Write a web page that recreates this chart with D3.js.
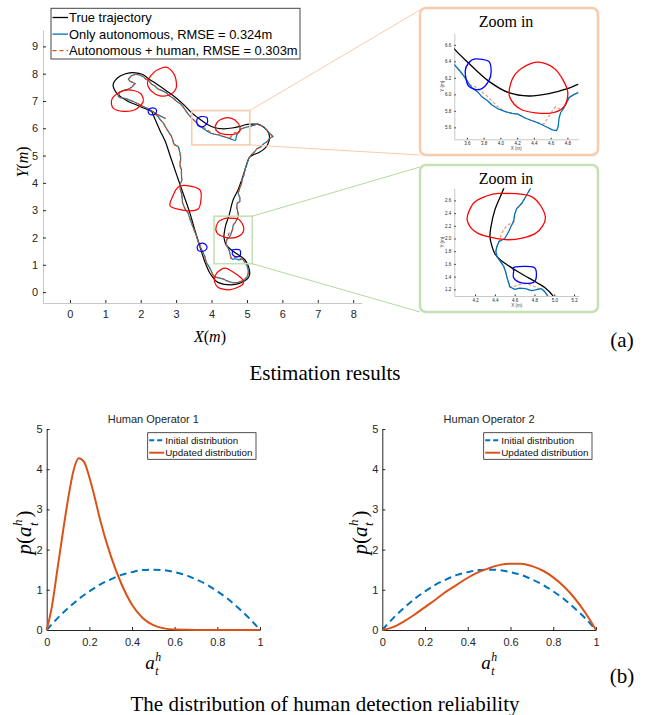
<!DOCTYPE html>
<html lang="en">
<head>
<meta charset="UTF-8">
<script src="https://cdnjs.cloudflare.com/ajax/libs/d3/7.8.5/d3.min.js"></script>
<style>
  body { margin: 0; background: #fff; }
  text { font-family: "Liberation Sans", Arial, sans-serif; }
  text.serif { font-family: "Liberation Serif", "Times New Roman", serif; }
</style>
</head>
<body>
<div id="content"></div>
<script>
// ---- data (metres) ----
const trueTrack = [[2.31,6.62],[1.98,6.80],[1.60,7.02],[1.32,7.29],[1.22,7.59],[1.35,7.85],[1.55,7.99],[1.75,8.04],[1.95,8.01],[2.07,7.96],[2.25,7.79],[2.45,7.62],[2.75,7.35],[3.01,7.10],[3.25,6.82],[3.45,6.55],[3.62,6.38],[3.86,6.16],[4.10,6.02],[4.34,5.98],[4.58,6.01],[4.80,6.07],[4.93,6.12],[5.08,6.15],[5.25,6.15],[5.40,6.10],[5.55,5.95],[5.63,5.75],[5.62,5.52],[5.52,5.28],[5.35,5.12],[5.18,5.03],[5.08,4.95],[5.02,4.80],[4.95,4.50],[4.85,4.10],[4.75,3.75],[4.61,3.38],[4.49,2.79],[4.40,2.45],[4.36,2.18],[4.35,2.03],[4.37,1.88],[4.40,1.76],[4.45,1.67],[4.52,1.59],[4.63,1.48],[4.74,1.38],[4.83,1.30],[4.91,1.22],[4.99,1.09],[5.05,0.90],[5.08,0.70],[5.05,0.55],[4.95,0.42],[4.80,0.33],[4.62,0.27],[4.45,0.27],[4.28,0.31],[4.14,0.39],[4.05,0.52],[3.95,0.70],[3.80,1.15],[3.67,1.67],[3.52,2.30],[3.39,2.89],[3.20,3.60],[3.00,4.35],[2.82,5.03],[2.70,5.50],[2.55,5.90],[2.45,6.19],[2.31,6.62]];

const autoTrack = [[2.70,6.36],[2.49,6.49],[2.33,6.62],[2.20,6.72],[2.07,6.80],[1.92,6.90],[1.79,6.98],[1.65,7.05],[1.55,7.10],[1.42,7.12],[1.36,7.18],[1.41,7.33],[1.55,7.40],[1.66,7.44],[1.74,7.50],[1.84,7.64],[1.70,7.72],[1.65,7.80],[1.74,7.93],[1.86,7.98],[1.98,7.95],[2.08,7.88],[2.14,7.80],[2.22,7.76],[2.30,7.62],[2.40,7.55],[2.47,7.45],[2.60,7.38],[2.72,7.30],[2.82,7.18],[2.92,7.10],[3.01,6.99],[3.12,6.90],[3.20,6.78],[3.27,6.65],[3.35,6.50],[3.45,6.36],
  [3.52,6.28],[3.58,6.20],[3.63,6.12],[3.67,6.07],[3.73,6.03],[3.78,5.97],[3.85,5.92],[3.90,5.87],[3.98,5.82],[4.06,5.79],[4.14,5.77],[4.21,5.76],[4.30,5.71],[4.38,5.68],[4.46,5.65],[4.54,5.61],[4.62,5.57],[4.67,5.56],[4.69,5.61],[4.70,5.71],[4.72,5.78],[4.76,5.84],[4.82,5.96],[4.88,6.00],[4.93,6.02],
  [5.02,6.05],[5.10,6.08],[5.22,6.12],[5.30,6.16],[5.38,6.12],[5.46,6.05],[5.55,5.95],[5.63,5.82],[5.74,5.70],[5.64,5.64],[5.58,5.52],[5.47,5.43],[5.39,5.32],[5.28,5.25],[5.20,5.12],[5.12,5.02],[5.05,4.90],[5.02,4.78],
  [4.98,4.62],[4.94,4.48],[4.91,4.28],[4.86,4.12],[4.85,3.99],[4.80,3.82],[4.75,3.63],[4.80,3.45],[4.80,3.32],[4.72,3.25],[4.71,3.10],[4.74,2.95],[4.76,2.79],
  [4.72,2.68],[4.67,2.55],[4.62,2.47],[4.60,2.38],[4.59,2.27],[4.56,2.18],[4.54,2.11],[4.50,2.00],[4.44,1.95],[4.42,1.87],[4.41,1.80],[4.42,1.72],[4.46,1.63],[4.49,1.56],[4.51,1.47],[4.52,1.40],[4.54,1.30],[4.55,1.24],[4.60,1.20],[4.65,1.22],[4.71,1.21],[4.77,1.18],[4.81,1.19],[4.87,1.21],[4.90,1.17],[4.92,1.13],[4.94,1.08],
  [4.99,1.00],[5.03,0.85],[5.04,0.70],[5.00,0.55],[4.90,0.42],[4.75,0.36],[4.61,0.34],[4.45,0.40],[4.35,0.47],[4.24,0.51],[4.12,0.55],[4.05,0.60],[3.98,0.80],[3.92,0.95],[3.86,1.06],[3.81,1.30],
  [3.75,1.48],[3.70,1.60],[3.67,1.72],[3.62,1.85],[3.58,2.04],[3.53,2.20],[3.47,2.40],[3.43,2.55],[3.38,2.72],[3.34,2.89],[3.25,3.05],[3.18,3.26],[3.17,3.45],[3.15,3.63],[3.11,3.80],[3.11,3.93],[3.16,4.10],[3.15,4.30],[3.15,4.48],[3.11,4.62],[3.11,4.72],[3.13,4.90],[3.11,5.09],[3.08,5.25],[3.06,5.33],[2.95,5.40],[2.92,5.50],[2.87,5.70],[2.78,5.88],[2.72,6.00],[2.64,6.19],[2.55,6.32],[2.49,6.43],[2.38,6.55]];

const humanTrack = [[2.70,6.36],[2.49,6.49],[2.33,6.62],[2.20,6.72],[2.07,6.80],[1.92,6.90],[1.79,6.98],[1.65,7.05],[1.55,7.10],[1.42,7.12],[1.36,7.18],[1.41,7.33],[1.55,7.40],[1.66,7.44],[1.74,7.50],[1.84,7.64],[1.70,7.72],[1.65,7.80],[1.74,7.93],[1.86,7.98],[1.98,7.95],[2.08,7.88],[2.14,7.80],[2.22,7.76],[2.30,7.62],[2.40,7.55],[2.47,7.45],[2.60,7.38],[2.72,7.30],[2.82,7.18],[2.92,7.10],[3.01,6.99],[3.12,6.90],[3.20,6.78],[3.27,6.65],[3.35,6.50],[3.45,6.36],
  [3.52,6.28],[3.58,6.20],[3.63,6.12],[3.67,6.10],[3.73,6.08],[3.78,6.03],[3.85,5.97],[3.92,5.90],[3.98,5.84],[4.06,5.79],[4.14,5.77],[4.21,5.76],[4.30,5.71],[4.38,5.68],[4.46,5.65],[4.52,5.64],[4.57,5.72],[4.62,5.80],[4.66,5.85],[4.71,5.82],[4.76,5.84],[4.82,5.96],[4.88,6.00],[4.93,6.02],
  [5.02,6.05],[5.10,6.08],[5.22,6.12],[5.30,6.16],[5.38,6.12],[5.46,6.05],[5.55,5.95],[5.63,5.82],[5.74,5.70],[5.64,5.64],[5.58,5.52],[5.47,5.43],[5.39,5.32],[5.28,5.25],[5.20,5.12],[5.12,5.02],[5.05,4.90],[5.02,4.78],
  [4.98,4.62],[4.94,4.48],[4.91,4.28],[4.86,4.12],[4.85,3.99],[4.80,3.82],[4.75,3.63],[4.80,3.45],[4.80,3.32],[4.72,3.25],[4.71,3.10],[4.74,2.95],[4.76,2.79],
  [4.72,2.68],[4.67,2.55],[4.62,2.47],[4.60,2.38],[4.59,2.27],[4.55,2.23],[4.49,2.15],[4.46,2.04],[4.44,1.95],[4.42,1.87],[4.41,1.80],[4.42,1.72],[4.46,1.63],[4.49,1.56],[4.51,1.47],[4.52,1.40],[4.54,1.30],[4.55,1.24],[4.60,1.25],[4.66,1.28],[4.72,1.29],[4.78,1.26],[4.83,1.22],[4.87,1.21],[4.90,1.17],[4.92,1.13],[4.94,1.08],
  [4.99,1.00],[5.03,0.85],[5.04,0.70],[5.00,0.55],[4.90,0.42],[4.75,0.36],[4.61,0.34],[4.45,0.40],[4.35,0.47],[4.24,0.51],[4.12,0.55],[4.05,0.60],[3.98,0.80],[3.92,0.95],[3.86,1.06],[3.81,1.30],
  [3.75,1.48],[3.70,1.60],[3.67,1.72],[3.62,1.85],[3.58,2.04],[3.53,2.20],[3.47,2.40],[3.43,2.55],[3.38,2.72],[3.34,2.89],[3.25,3.05],[3.18,3.26],[3.17,3.45],[3.15,3.63],[3.11,3.80],[3.11,3.93],[3.16,4.10],[3.15,4.30],[3.15,4.48],[3.11,4.62],[3.11,4.72],[3.13,4.90],[3.11,5.09],[3.08,5.25],[3.06,5.33],[2.95,5.40],[2.92,5.50],[2.87,5.70],[2.78,5.88],[2.72,6.00],[2.64,6.19],[2.55,6.32],[2.49,6.43],[2.38,6.55]];

// human observation regions (red) and robot detections (blue)
const redRegions = [
  [[2.78,8.21],[2.97,7.90],[3.00,7.47],[2.82,7.23],[2.54,7.19],[2.31,7.35],[2.19,7.66],[2.35,8.02],[2.59,8.21]],
  [[1.65,7.41],[1.98,7.29],[2.07,6.98],[1.84,6.68],[1.51,6.62],[1.22,6.74],[1.18,7.04],[1.36,7.29]],
  [[4.46,6.39],[4.66,6.30],[4.80,6.05],[4.76,5.85],[4.58,5.77],[4.26,5.81],[4.11,5.97],[4.14,6.18],[4.26,6.32]],
  [[3.30,3.90],[3.67,3.75],[3.70,3.38],[3.62,3.04],[3.30,2.98],[2.84,3.14],[2.90,3.50],[3.06,3.85]],
  [[4.44,2.71],[4.77,2.66],[4.91,2.34],[4.81,2.08],[4.54,1.98],[4.23,2.08],[4.12,2.29],[4.18,2.55],[4.30,2.66]],
  [[4.38,0.88],[4.65,0.70],[4.88,0.45],[4.85,0.25],[4.50,0.08],[4.18,0.18],[4.08,0.45],[4.15,0.70]]
];
const blueRegions = [
  [[2.33,6.75],[2.43,6.70],[2.44,6.58],[2.35,6.49],[2.23,6.54],[2.22,6.68]],
  [[3.70,6.43],[3.86,6.40],[3.89,6.28],[3.86,6.16],[3.76,6.06],[3.62,6.10],[3.58,6.28],[3.62,6.38]],
  [[3.73,1.79],[3.85,1.72],[3.86,1.58],[3.75,1.49],[3.62,1.53],[3.60,1.69]],
  [[4.60,1.55],[4.79,1.55],[4.82,1.43],[4.79,1.31],[4.67,1.30],[4.59,1.38],[4.59,1.48]]
];

const xTicksMain = [0,1,2,3,4,5,6,7,8];
const yTicksMain = [0,1,2,3,4,5,6,7,8,9];
const legendMain = ['True trajectory', 'Only autonomous, RMSE = 0.324m', 'Autonomous + human, RMSE = 0.303m'];

// zoomed windows: area in the main plot and the panel axes
const zoomAreas = [{x0: 3.44, x1: 5.08, y0: 5.39, y1: 6.65}, {x0: 4.07, x1: 5.15, y0: 1.04, y1: 2.78}];
const zoomDomains = [{x: [3.45, 4.93], y: [5.455, 6.74]}, {x: [3.99, 5.25], y: [1.095, 2.79]}];
const zoomXTicks = [[3.6,3.8,4,4.2,4.4,4.6,4.8], [4.2,4.4,4.6,4.8,5,5.2]];
const zoomYTicks = [[5.6,5.8,6,6.2,6.4,6.6], [1.2,1.4,1.6,1.8,2,2.2,2.4,2.6]];

// reliability distributions
const aGrid = [0,0.05,0.1,0.15,0.2,0.25,0.3,0.35,0.4,0.45,0.5,0.55,0.6,0.65,0.7,0.75,0.8,0.85,0.9,0.95,1];
const initialPdf = [0,0.29,0.54,0.77,0.96,1.13,1.26,1.37,1.44,1.49,1.5,1.49,1.44,1.37,1.26,1.13,0.96,0.77,0.54,0.29,0];
const op1Grid = [0,0.025,0.05,0.075,0.1,0.125,0.15,0.175,0.2,0.225,0.25,0.3,0.35,0.4,0.45,0.5,0.55,0.6,0.7,0.8,0.9,1];
const op1Pdf = [0,0.6,1.5,2.4,3.25,3.95,4.27,4.18,3.8,3.3,2.75,1.85,1.15,0.63,0.3,0.12,0.04,0.01,0,0,0,0];
const op2Pdf = [0,0.07,0.21,0.38,0.57,0.76,0.96,1.13,1.30,1.44,1.54,1.62,1.65,1.65,1.59,1.48,1.31,1.08,0.79,0.43,0];
const pTicksX = [0,0.2,0.4,0.6,0.8,1];
const pTicksY = [0,1,2,3,4,5];

const cBlue = '#0072BD', cOrange = '#D95319';
const width = 651, height = 715;

const svg = d3.select('#content').append('svg')
  .attr('width', width).attr('height', height);

//-Scene: true track, estimates, regions
function drawScene(g, x, y, lw, humanOnTop) {
  const smooth = d3.line().x(d => x(d[0])).y(d => y(d[1])).curve(d3.curveCatmullRom);
  const rough = d3.line().x(d => x(d[0])).y(d => y(d[1]));
  const loop = d3.line().x(d => x(d[0])).y(d => y(d[1])).curve(d3.curveCardinalClosed.tension(0.1));

  g.append('path').datum(trueTrack).attr('d', smooth)
    .attr('fill', 'none').attr('stroke', '#000').attr('stroke-width', lw);
  const drawAuto = () => g.append('path').datum(autoTrack).attr('d', rough)
    .attr('fill', 'none').attr('stroke', cBlue).attr('stroke-width', lw).attr('stroke-linejoin', 'round');
  const drawHuman = () => g.append('path').datum(humanTrack).attr('d', rough)
    .attr('fill', 'none').attr('stroke', cOrange).attr('stroke-width', lw)
    .attr('stroke-dasharray', humanOnTop ? '3.5,2.5' : '3,2').attr('opacity', humanOnTop ? 1 : 0.55);
  if (humanOnTop) { drawAuto(); drawHuman(); } else { drawHuman(); drawAuto(); }

  g.selectAll(null).data(redRegions).enter().append('path').attr('d', loop)
    .attr('fill', 'none').attr('stroke', '#ff0000').attr('stroke-width', lw);
  g.selectAll(null).data(blueRegions).enter().append('path').attr('d', loop)
    .attr('fill', 'none').attr('stroke', '#0000ff').attr('stroke-width', lw);
}

//-Main trajectory plot
const xMain = d3.scaleLinear().domain([-0.76, 8.24]).range([43, 361.7]);
const yMain = d3.scaleLinear().domain([-0.4, 9.6]).range([303, 30]);

function styleAxis(g, lineColor, fs) {
  g.select('.domain').attr('stroke', lineColor);
  g.selectAll('.tick line').attr('stroke', '#262626');
  g.selectAll('.tick text').attr('fill', '#262626').style('font-size', fs + 'px')
    .style('font-family', '"Liberation Sans", Arial, sans-serif');
}

svg.append('g').attr('transform', 'translate(0,303)')
  .call(d3.axisBottom(xMain).tickValues(xTicksMain).tickSize(-3).tickSizeOuter(0).tickPadding(7))
  .call(g => styleAxis(g, '#c8c8c8', 11));
svg.append('g').attr('transform', 'translate(43,0)')
  .call(d3.axisLeft(yMain).tickValues(yTicksMain).tickSize(-3).tickSizeOuter(0).tickPadding(5))
  .call(g => styleAxis(g, '#c8c8c8', 11));

drawScene(svg.append('g'), xMain, yMain, 1.2, true);

//--zoom rectangles, connectors and panels
const panelBoxes = [{x: 420, y: 8, w: 178, h: 147, color: '#f8cbad', link: '#f8cbad'},
                    {x: 420, y: 165, w: 178, h: 147, color: '#c5e0b4', link: '#b4d89c'}];
const panelAxes = [{l: 454.3, r: 578.3, t: 33.3, b: 139.3}, {l: 454.3, r: 579, t: 188.3, b: 296}];
const defs = svg.append('defs');

zoomAreas.forEach((a, i) => {
  const box = panelBoxes[i];
  const rx0 = xMain(a.x0), rx1 = xMain(a.x1), ry0 = yMain(a.y1), ry1 = yMain(a.y0);
  svg.append('rect').attr('x', rx0).attr('y', ry0).attr('width', rx1 - rx0).attr('height', ry1 - ry0)
    .attr('fill', 'none').attr('stroke', box.color).attr('stroke-width', 1.6);
  svg.append('line').attr('x1', rx1).attr('y1', ry0).attr('x2', box.x).attr('y2', box.y + 2)
    .attr('stroke', box.link).attr('stroke-width', 1);
  svg.append('line').attr('x1', rx1).attr('y1', ry1).attr('x2', box.x).attr('y2', box.y + box.h)
    .attr('stroke', box.link).attr('stroke-width', 1);
  svg.append('rect').attr('x', box.x).attr('y', box.y).attr('width', box.w).attr('height', box.h)
    .attr('rx', 6).attr('fill', '#fff').attr('stroke', box.color).attr('stroke-width', 2.5);

  const ax = panelAxes[i], dom = zoomDomains[i];
  const xz = d3.scaleLinear().domain(dom.x).range([ax.l, ax.r]);
  const yz = d3.scaleLinear().domain(dom.y).range([ax.b, ax.t]);

  svg.append('text').attr('class', 'serif').attr('x', 506).attr('y', box.y + 18.5)
    .attr('text-anchor', 'middle').style('font-size', '16px').text('Zoom in');

  svg.append('g').attr('transform', `translate(0,${ax.b})`)
    .call(d3.axisBottom(xz).tickValues(zoomXTicks[i]).tickSize(-1.5).tickSizeOuter(0).tickPadding(2.5))
    .call(g => styleAxis(g, '#c8c8c8', 4.5));
  svg.append('g').attr('transform', `translate(${ax.l},0)`)
    .call(d3.axisLeft(yz).tickValues(zoomYTicks[i]).tickSize(-1.5).tickSizeOuter(0).tickPadding(3))
    .call(g => styleAxis(g, '#c8c8c8', 4.5));
  svg.append('text').attr('x', (ax.l + ax.r) / 2).attr('y', ax.b + 11).attr('text-anchor', 'middle')
    .attr('fill', '#444').style('font-size', '4.5px').text('X (m)');
  svg.append('text').attr('transform', `translate(${ax.l - 10},${(ax.t + ax.b) / 2}) rotate(-90)`)
    .attr('text-anchor', 'middle').attr('fill', '#444').style('font-size', '4.5px').text('Y (m)');

  defs.append('clipPath').attr('id', 'zclip' + i).append('rect')
    .attr('x', ax.l).attr('y', ax.t).attr('width', ax.r - ax.l).attr('height', ax.b - ax.t);
  drawScene(svg.append('g').attr('clip-path', `url(#zclip${i})`), xz, yz, 1.3, false);
});

//--legend
const legend = svg.append('g');
legend.append('rect').attr('x', 51).attr('y', 8.3).attr('width', 249).attr('height', 50.7)
  .attr('fill', '#fff').attr('stroke', '#444').attr('stroke-width', 1);
legendMain.forEach((label, i) => {
  const ly = 17.5 + i * 16.6;
  legend.append('line').attr('x1', 52.5).attr('x2', 68).attr('y1', ly).attr('y2', ly)
    .attr('stroke', ['#000', cBlue, cOrange][i]).attr('stroke-width', 1.3)
    .attr('stroke-dasharray', i === 2 ? '4,3' : null);
  legend.append('text').attr('x', 69).attr('y', ly + 4.5).style('font-size', '12.9px').text(label);
});

//--axis titles
const xt = svg.append('text').attr('class', 'serif').attr('x', 210).attr('y', 342)
  .attr('text-anchor', 'middle').style('font-size', '16px');
xt.append('tspan').style('font-style', 'italic').text('X');
xt.append('tspan').text('(');
xt.append('tspan').style('font-style', 'italic').text('m');
xt.append('tspan').text(')');
const yt = svg.append('text').attr('class', 'serif').attr('transform', 'translate(28,162) rotate(-90)')
  .attr('text-anchor', 'middle').style('font-size', '16px');
yt.append('tspan').style('font-style', 'italic').text('Y');
yt.append('tspan').text('(');
yt.append('tspan').style('font-style', 'italic').text('m');
yt.append('tspan').text(')');

//-Reliability distributions
const pPanels = [{l: 46.7, r: 260, title: 'Human Operator 1', gx: op1Grid, gy: op1Pdf},
                 {l: 382.3, r: 596, title: 'Human Operator 2', gx: aGrid, gy: op2Pdf}];
const yP = d3.scaleLinear().domain([0, 5]).range([630, 429]);

// a symbol with stacked super/subscript, as separate small texts
function scriptLabel(g, x, y, base, sup, sub, size, rotate) {
  const grp = g.append('g').attr('transform', `translate(${x},${y})` + (rotate ? ' rotate(-90)' : ''));
  const b = grp.append('text').attr('class', 'serif').style('font-size', size + 'px');
  base.forEach(t => b.append('tspan').style('font-style', t[1] ? 'italic' : 'normal').text(t[0]));
  const w = b.node().getComputedTextLength();
  const s = size * 0.62;
  grp.append('text').attr('class', 'serif').attr('x', w + 0.5).attr('y', -size * 0.42)
    .style('font-size', s + 'px').style('font-style', 'italic').text(sup);
  grp.append('text').attr('class', 'serif').attr('x', w + 0.5).attr('y', size * 0.3)
    .style('font-size', s + 'px').style('font-style', 'italic').text(sub);
  return {grp, w, s};
}

pPanels.forEach(p => {
  const xP = d3.scaleLinear().domain([0, 1]).range([p.l, p.r]);
  const g = svg.append('g');
  g.append('g').attr('transform', 'translate(0,630)')
    .call(d3.axisBottom(xP).tickValues(pTicksX).tickFormat(d => d).tickSize(-3).tickSizeOuter(0).tickPadding(8))
    .call(a => styleAxis(a, '#262626', 11));
  g.append('g').attr('transform', `translate(${p.l},0)`)
    .call(d3.axisLeft(yP).tickValues(pTicksY).tickFormat(d => d).tickSize(-3).tickSizeOuter(0).tickPadding(4))
    .call(a => styleAxis(a, '#262626', 11));

  const line = d3.line().x(d => xP(d[0])).y(d => yP(d[1])).curve(d3.curveMonotoneX);
  g.append('path').datum(d3.zip(aGrid, initialPdf)).attr('d', line)
    .attr('fill', 'none').attr('stroke', cBlue).attr('stroke-width', 2).attr('stroke-dasharray', '7,4.5');
  g.append('path').datum(d3.zip(p.gx, p.gy)).attr('d', line)
    .attr('fill', 'none').attr('stroke', cOrange).attr('stroke-width', 2);

  g.append('text').attr('x', (p.l + p.r) / 2).attr('y', 423).attr('text-anchor', 'middle')
    .attr('fill', '#262626').style('font-size', '11px').text(p.title);

  //--legend
  const lx = p.r - 112.3;
  g.append('rect').attr('x', lx).attr('y', 432.7).attr('width', 108.3).attr('height', 26.6)
    .attr('fill', '#fff').attr('stroke', '#262626').attr('stroke-width', 0.8);
  [['Initial distribution', cBlue, '5,3'], ['Updated distribution', cOrange, null]].forEach((it, i) => {
    const ly = 440.3 + i * 12.4;
    g.append('line').attr('x1', lx + 1.5).attr('x2', lx + 16.5).attr('y1', ly).attr('y2', ly)
      .attr('stroke', it[1]).attr('stroke-width', 2).attr('stroke-dasharray', it[2]);
    g.append('text').attr('x', lx + 17.6).attr('y', ly + 3.5).attr('fill', '#111')
      .style('font-size', '9.8px').text(it[0]);
  });

  //--axis titles
  const cx = (p.l + p.r) / 2;
  scriptLabel(g, cx - 8, 669, [['a', true]], 'h', 't', 19, false);
  const yl = scriptLabel(g, 31, 0, [['p', true], ['(', false], ['a', true]], 'h', 't', 21, true);
  const total = yl.w + yl.s * 0.6 + 7;
  yl.grp.attr('transform', `translate(${p.l - 15.5},${533 + total / 2}) rotate(-90)`);
  yl.grp.append('text').attr('class', 'serif').attr('x', yl.w + yl.s * 0.6 + 1).style('font-size', '21px')
    .text(')');
});

//-Captions
const captions = [
  {x: 622, y: 347, t: '(a)'}, {x: 325, y: 380, t: 'Estimation results'},
  {x: 622, y: 683, t: '(b)'}, {x: 325, y: 711, t: 'The distribution of human detection reliability'}
];
captions.forEach(c => svg.append('text').attr('class', 'serif').attr('x', c.x).attr('y', c.y)
  .attr('text-anchor', 'middle').style('font-size', '21px').text(c.t));
</script>
</body>
</html>
